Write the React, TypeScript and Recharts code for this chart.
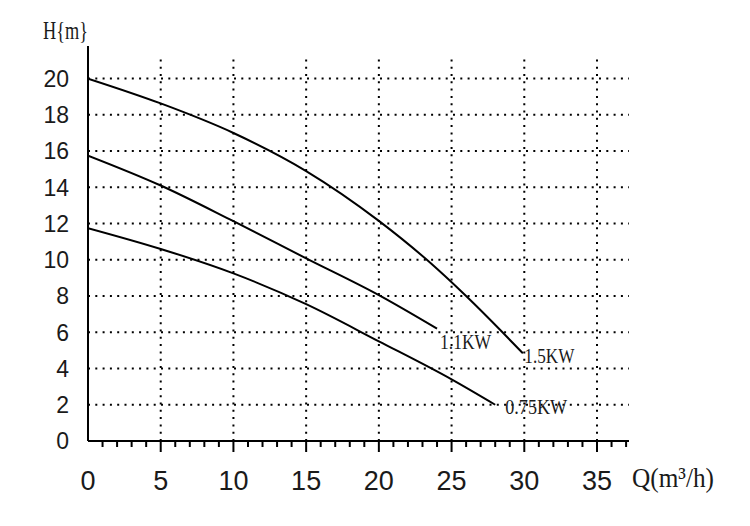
import React from "react";
import {
  LineChart,
  Line,
  XAxis,
  YAxis,
  ReferenceLine,
  Label,
} from "recharts";

// Pump curves: flow Q (m³/h) vs head H (m)
const q15 = [0, 5, 10, 15, 20, 23.3, 26, 28.5, 29.9];
const h15 = [20, 18.63, 17.0, 14.9, 12.15, 10, 8, 6, 4.84];

const q11 = [0, 5, 10, 15, 20, 24];
const h11 = [15.75, 14.1, 12.13, 10.08, 8.05, 6.2];

const q075 = [0, 5, 10, 15, 20, 25, 28];
const h075 = [11.75, 10.6, 9.25, 7.55, 5.5, 3.4, 2.0];

const seriesNames = ["1.5KW", "1.1KW", "0.75KW"];

const xTicks = [
  0, 1, 2, 3, 4, 5, 6, 7, 8, 9, 10, 11, 12, 13, 14, 15, 16, 17, 18, 19, 20,
  21, 22, 23, 24, 25, 26, 27, 28, 29, 30, 31, 32, 33, 34, 35, 36, 37,
];
const xMajor = [5, 10, 15, 20, 25, 30, 35];
const yTicks = [0, 2, 4, 6, 8, 10, 12, 14, 16, 18, 20];
const yGrid = [2, 4, 6, 8, 10, 12, 14, 16, 18, 20];

const xTitle = "Q(m³/h)";
const yTitle = "H{m}";

const toRows = (qs: number[], hs: number[]) =>
  qs.map((q, i) => ({ q, h: hs[i] }));

const d15 = toRows(q15, h15);
const d11 = toRows(q11, h11);
const d075 = toRows(q075, h075);

const INK = "#1a1a1a";
const SERIF = "'Liberation Serif', 'DejaVu Serif', serif";
const SANS = "'Liberation Sans', Arial, sans-serif";

const XTick = (props: any) => {
  const { x, y, payload } = props;
  const v = payload.value as number;
  const major = v % 5 === 0;
  return (
    <g>
      {v > 0 && (
        <line
          x1={x}
          x2={x}
          y1={y}
          y2={y + (major ? 11 : 6)}
          stroke="#000"
          strokeWidth={2}
        />
      )}
      {major && (
        <text
          x={x}
          y={y + 49}
          textAnchor="middle"
          fontSize={27}
          fontFamily={SANS}
          fill={INK}
        >
          {v}
        </text>
      )}
    </g>
  );
};

const YTick = (props: any) => {
  const { x, y, payload } = props;
  return (
    <text
      x={x - 19}
      y={y}
      dy="0.36em"
      textAnchor="end"
      fontSize={23}
      fontFamily={SANS}
      fill={INK}
    >
      {payload.value}
    </text>
  );
};

const makeEndLabel =
  (name: string, lastIndex: number, dx: number, dy: number, len: number) =>
  (props: any) => {
    const { x, y, index } = props;
    if (index !== lastIndex) return null;
    return (
      <text
        x={x + dx}
        y={y + dy}
        fontSize={21}
        fontFamily={SERIF}
        fill={INK}
        textLength={len}
        lengthAdjust="spacingAndGlyphs"
      >
        {name}
      </text>
    );
  };

export default function App() {
  return (
    <div
      style={{
        position: "absolute",
        left: 0,
        top: 0,
        width: 750,
        height: 526,
        background: "#fff",
      }}
    >
      <LineChart
        width={750}
        height={526}
        margin={{ top: 46, right: 121, bottom: 0, left: 0 }}
      >
        {yGrid.map((v) => (
          <ReferenceLine
            key={"h" + v}
            y={v}
            stroke="#000"
            strokeWidth={2}
            strokeDasharray="2 5.3"
          />
        ))}
        {xMajor.map((v) => (
          <ReferenceLine
            key={"v" + v}
            segment={[
              { x: v, y: 0 },
              { x: v, y: 21.05 },
            ]}
            stroke="#000"
            strokeWidth={2}
            strokeDasharray="2 5.3"
          />
        ))}
        <XAxis
          dataKey="q"
          type="number"
          domain={[0, 37.2]}
          allowDataOverflow
          ticks={xTicks}
          interval={0}
          height={85}
          tickSize={0}
          tickMargin={0}
          tickLine={false}
          axisLine={{ stroke: "#000", strokeWidth: 2 }}
          tick={<XTick />}
        >
          <Label
            content={(p: any) => {
              const vb = p.viewBox;
              return (
                <text
                  x={vb.x + vb.width + 3}
                  y={vb.y + 46}
                  fontSize={28}
                  fontFamily={SERIF}
                  fill={INK}
                  textLength={82}
                  lengthAdjust="spacingAndGlyphs"
                >
                  {xTitle}
                </text>
              );
            }}
          />
        </XAxis>
        <YAxis
          type="number"
          domain={[0, 21.8]}
          allowDataOverflow
          ticks={yTicks}
          interval={0}
          width={88}
          tickSize={0}
          tickMargin={0}
          tickLine={false}
          axisLine={{ stroke: "#000", strokeWidth: 2 }}
          tick={<YTick />}
        >
          <Label
            content={(p: any) => {
              const vb = p.viewBox;
              return (
                <text
                  x={vb.x + 43}
                  y={vb.y - 7}
                  fontSize={25}
                  fontFamily={SERIF}
                  fill={INK}
                  textLength={45}
                  lengthAdjust="spacingAndGlyphs"
                >
                  {yTitle}
                </text>
              );
            }}
          />
        </YAxis>
        <Line
          data={d15}
          dataKey="h"
          type="monotone"
          stroke="#000"
          strokeWidth={2}
          dot={false}
          activeDot={false}
          isAnimationActive={false}
          label={makeEndLabel(seriesNames[0], d15.length - 1, 1.5, 10, 50)}
        />
        <Line
          data={d11}
          dataKey="h"
          type="monotone"
          stroke="#000"
          strokeWidth={2}
          dot={false}
          activeDot={false}
          isAnimationActive={false}
          label={makeEndLabel(seriesNames[1], d11.length - 1, 3, 20, 51)}
        />
        <Line
          data={d075}
          dataKey="h"
          type="monotone"
          stroke="#000"
          strokeWidth={2}
          dot={false}
          activeDot={false}
          isAnimationActive={false}
          label={makeEndLabel(seriesNames[2], d075.length - 1, 10, 9, 62)}
        />
      </LineChart>
    </div>
  );
}
